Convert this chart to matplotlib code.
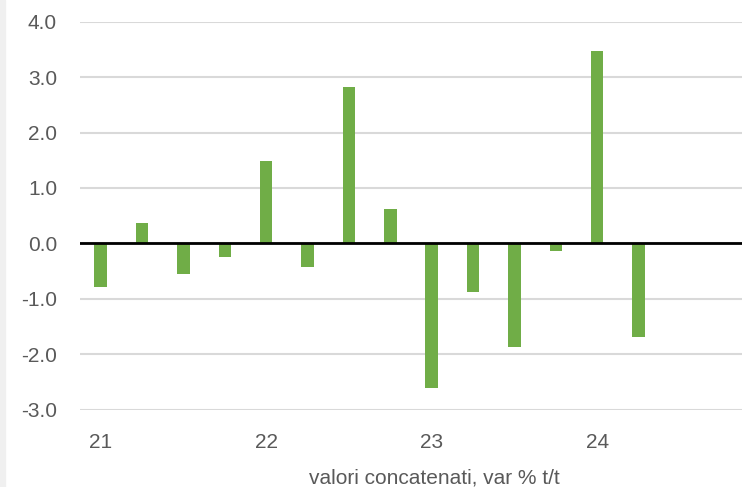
import numpy as np
import matplotlib.pyplot as plt
from matplotlib.patches import Rectangle

plt.rcParams['font.family'] = ['Liberation Sans', 'DejaVu Sans']

quarters = ['21', '', '', '', '22', '', '', '', '23', '', '', '', '24', '', '', '']
values = [-0.78, 0.37, -0.56, -0.24, 1.49, -0.42, 2.82, 0.62,
          -2.61, -0.88, -1.87, -0.14, 3.47, -1.69]
yticks = [-3.0, -2.0, -1.0, 0.0, 1.0, 2.0, 3.0, 4.0]

fig = plt.figure(figsize=(7.42, 4.87), dpi=100)
fig.patches.append(Rectangle((0, 0), 5 / 742, 1, transform=fig.transFigure,
                             color='#f0f0f0', zorder=0))
ax = fig.add_axes([80 / 742, 1 - 409.7 / 487, 662 / 742, 388 / 487])

x = np.arange(len(values))
ax.bar(x, values, width=0.3, color='#70AD47', zorder=3)
ax.axhline(0, color='black', lw=2, zorder=4)

ax.set_xlim(-0.5, len(quarters) - 0.5)
ax.set_ylim(-3, 4)
ax.set_yticks(yticks)
ax.set_yticklabels([f'{v:.1f}' for v in yticks])
ax.set_xticks(np.arange(len(quarters)))
ax.set_xticklabels(quarters)
ax.grid(axis='y', color='#d9d9d9', lw=1.5, zorder=0)
for s in ax.spines.values():
    s.set_visible(False)
ax.tick_params(length=0, labelsize=15, labelcolor='#595959')
ax.tick_params(axis='y', pad=16.5)
ax.tick_params(axis='x', pad=17)
ax.set_xlabel('valori concatenati, var % t/t', fontsize=15, color='#595959')
ax.xaxis.set_label_coords(0.535, -0.152)

fig.savefig('out.png', dpi=100)
